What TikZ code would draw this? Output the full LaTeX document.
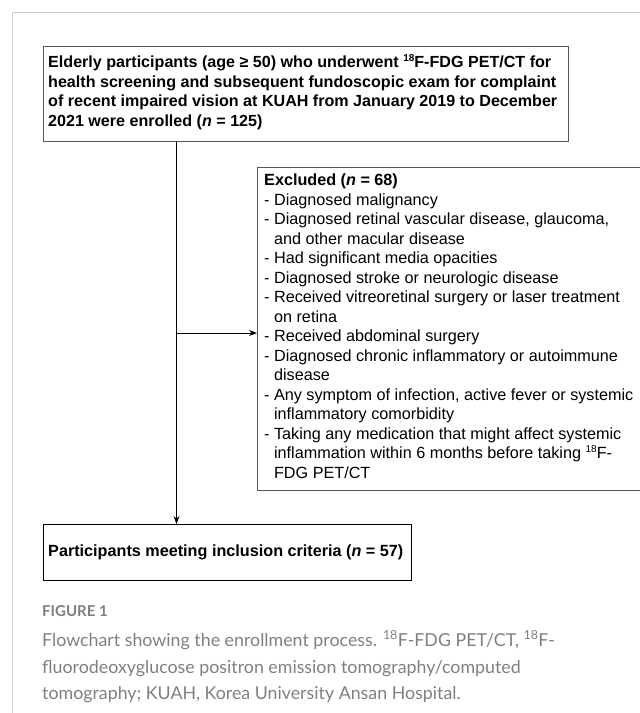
\documentclass[tikz,border=0pt]{standalone}
\usepackage{fontspec}
\setmainfont{Liberation Sans}
\newfontfamily\capfont{Lato}
\usetikzlibrary{arrows.meta}
\definecolor{framegray}{HTML}{CCCCCC}
\definecolor{boxgray}{HTML}{555555}
\definecolor{capgray}{HTML}{7F7F7F}
\newcommand{\ind}{\phantom{- }}
\newcommand{\isot}[1]{\smash{\raisebox{6pt}{\fontsize{10}{10}\selectfont #1}}}
\begin{document}
\begin{tikzpicture}[x=1pt,y=-1pt,
  boxbase/.style={draw, anchor=north west, inner sep=0pt, line width=0.9pt},
  boxtext/.style={align=left, inner sep=0pt},
  conn/.style={line width=0.9pt, -{Stealth[length=8pt,width=6pt]}},
  capline/.style={anchor=base west, inner sep=0pt, text=capgray}]
\clip (0,0) rectangle (640,713);
\useasboundingbox (0,0) rectangle (640,713);
\draw[framegray, line width=1pt] (12,713) -- (12,12) -- (640,12);

% boxes
\node[boxbase, draw=boxgray, minimum width=525pt, minimum height=95pt] (top) at (43,46) {};
\node[boxbase, draw=boxgray, minimum width=420pt, minimum height=323pt] (excl) at (257,167) {};
\node[boxbase, draw=black, minimum width=368pt, minimum height=56pt] (incl) at (43,524) {};

% texts
\node[boxtext, anchor=west, font=\fontsize{16.1}{19.5}\selectfont\bfseries]
  (toptext) at ([shift={(5,-1)}]top.west)
  {Elderly participants (age ≥ 50) who underwent \isot{18}F-FDG PET/CT for\\
  health screening and subsequent fundoscopic exam for complaint\\
  of recent impaired vision at KUAH from January 2019 to December\\
  2021 were enrolled (\textit{n} = 125)};

\node[boxtext, anchor=north west, font=\fontsize{16.2}{19.5}\selectfont]
  (excltext) at ([shift={(7,7)}]excl.north west)
  {\textbf{Excluded (\textit{n} = 68)}\\
  - Diagnosed malignancy\\
  - Diagnosed retinal vascular disease, glaucoma,\\
  \ind and other macular disease\\
  - Had significant media opacities\\
  - Diagnosed stroke or neurologic disease\\
  - Received vitreoretinal surgery or laser treatment\\
  \ind on retina\\
  - Received abdominal surgery\\
  - Diagnosed chronic inflammatory or autoimmune\\
  \ind disease\\
  - Any symptom of infection, active fever or systemic\\
  \ind inflammatory comorbidity\\
  - Taking any medication that might affect systemic\\
  \ind inflammation within 6 months before taking \isot{18}F-\\
  \ind FDG PET/CT};

\node[boxtext, anchor=west, font=\fontsize{16.2}{19.5}\selectfont\bfseries]
  (incltext) at ([shift={(5,0)}]incl.west)
  {Participants meeting inclusion criteria (\textit{n} = 57)};

% connectors
\coordinate (split) at (176.5,333);
\draw[conn] (top.south -| split) -- (incl.north -| split);
\draw[conn] (split) -- (split -| excl.west);

% caption
\node[capline] (fig) at (42,616) {\capfont\bfseries\fontsize{15}{16}\selectfont FIGURE 1};
\node[capline] (cap1) at (42,646) {\capfont\fontsize{17.8}{20}\selectfont Flowchart showing the enrollment process. \textsuperscript{18}F-FDG PET/CT, \textsuperscript{18}F-};
\node[capline] (cap2) at (42,673) {\capfont\fontsize{17.8}{20}\selectfont fluorodeoxyglucose positron emission tomography/computed};
\node[capline] (cap3) at (42,699) {\capfont\fontsize{17.8}{20}\selectfont tomography; KUAH, Korea University Ansan Hospital.};
\end{tikzpicture}
\end{document}
